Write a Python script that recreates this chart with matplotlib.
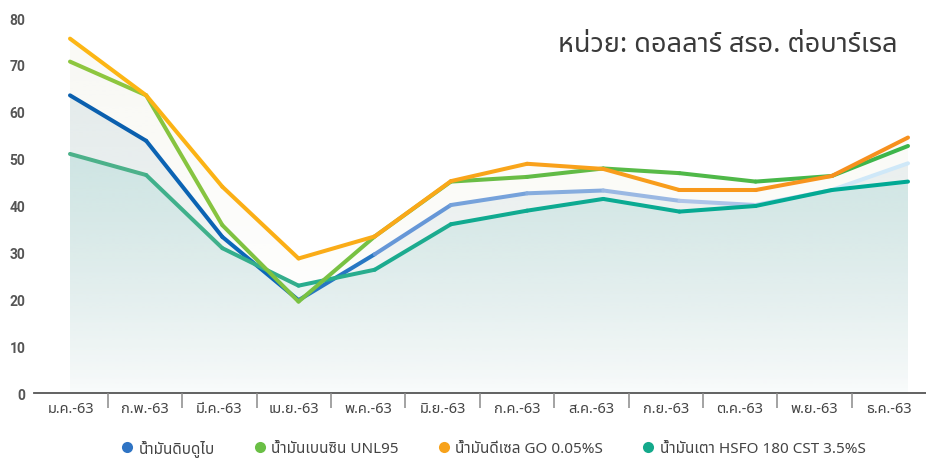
import numpy as np
import matplotlib
matplotlib.use('Agg')
import matplotlib.pyplot as plt
from matplotlib import font_manager
from matplotlib.collections import LineCollection
from matplotlib.colors import LinearSegmentedColormap, to_rgb
from matplotlib.lines import Line2D

# ---------------- data ----------------
months = ['ม.ค.-63', 'ก.พ.-63', 'มี.ค.-63', 'เม.ย.-63', 'พ.ค.-63', 'มิ.ย.-63',
          'ก.ค.-63', 'ส.ค.-63', 'ก.ย.-63', 'ต.ค.-63', 'พ.ย.-63', 'ธ.ค.-63']
dubai = [63.5, 53.8, 33.3, 19.8, 29.6, 40.1, 42.6, 43.2, 41.0, 40.1, 43.3, 49.0]
gasoline = [70.7, 63.5, 35.8, 19.5, 33.4, 45.1, 46.1, 47.9, 46.9, 45.1, 46.3, 52.7]
diesel = [75.6, 63.5, 44.0, 28.7, 33.4, 45.2, 48.9, 47.8, 43.3, 43.3, 46.3, 54.5]
fueloil = [51.0, 46.5, 30.9, 22.9, 26.3, 36.0, 38.9, 41.4, 38.7, 39.9, 43.3, 45.1]
names = ['น้ำมันดิบดูไบ', 'น้ำมันเบนซิน UNL95', 'น้ำมันดีเซล GO 0.05%S',
         'น้ำมันเตา HSFO 180 CST 3.5%S']
yticks = [0, 10, 20, 30, 40, 50, 60, 70, 80]
title = 'หน่วย: ดอลลาร์ สรอ. ต่อบาร์เรล'

# ---------------- font with Thai glyphs ----------------
def thai_fonts():
    found = []
    try:
        from fontTools.ttLib import TTFont
    except Exception:
        return found
    seen = set()
    for f in font_manager.fontManager.ttflist:
        if f.name in seen:
            continue
        try:
            kw = {'fontNumber': 0} if f.fname.lower().endswith(('.ttc', '.otc')) else {}
            tt = TTFont(f.fname, lazy=True, **kw)
            cmap = tt.getBestCmap()
            if cmap and 0x0E19 in cmap and 0x0E49 in cmap:
                found.append(f.name)
                seen.add(f.name)
        except Exception:
            pass
    pref = ['Noto Sans Thai', 'Noto Sans Thai UI', 'Sarabun', 'Prompt', 'Kanit',
            'Loma', 'Garuda', 'Tlwg Typo', 'Waree', 'Norasi']
    found.sort(key=lambda n: pref.index(n) if n in pref else len(pref))
    return found

tf = thai_fonts()
fam = (tf[:1] if tf else []) + ['DejaVu Sans']
plt.rcParams['font.family'] = fam

# ---------------- figure ----------------
W, H = 926, 460
fig = plt.figure(figsize=(W / 100, H / 100), dpi=100)
left_px, right_px, bot_px, top_px = 33.6, 926, 394, 19
ax = fig.add_axes([left_px / W, 1 - bot_px / H, (right_px - left_px) / W, (bot_px - top_px) / H])

# point 0 at x=70px, point 11 at x=908px
step = (908 - 70) / 11.0
ax.set_xlim(-(70 - left_px) / step, 11 + (right_px - 908) / step)
ax.set_ylim(0, 80)
x = np.arange(len(months))

def grad_fill(xs, ys, color, a_top, a_bot, z):
    ys = np.asarray(ys, float)
    top = ys.max()
    n = 256
    rgb = np.array(to_rgb(color))
    img = np.zeros((n, 1, 4))
    img[:, 0, :3] = rgb
    img[:, 0, 3] = np.linspace(a_top, a_bot, n)
    poly = ax.fill_between(xs, 0, ys, facecolor='none', edgecolor='none')
    im = ax.imshow(img, aspect='auto', extent=[xs[0], xs[-1], 0, top],
                   origin='upper', zorder=z, interpolation='bilinear')
    path = poly.get_paths()[0]
    im.set_clip_path(path, transform=ax.transData)

grad_fill(x, diesel, '#efefe2', 0.3, 0.0, 1)
grad_fill(x, gasoline, '#efefe2', 0.1, 0.0, 1.1)
grad_fill(x, dubai, '#d3e0e4', 0.55, 0.05, 1.2)
grad_fill(x, fueloil, '#c0e0de', 0.65, 0.05, 1.3)

def grad_line(xs, ys, stops, z, lw=2.9):
    pts = np.column_stack([xs, ys])
    segs = np.stack([pts[:-1], pts[1:]], axis=1)
    cmap = LinearSegmentedColormap.from_list('c', stops)
    cols = cmap(np.linspace(0, 1, len(segs)))
    lc = LineCollection(segs, colors=cols, linewidths=lw, capstyle='round',
                        joinstyle='round', zorder=z)
    ax.add_collection(lc)

grad_line(x, dubai, [(0, '#0a5fae'), (0.27, '#0d6abb'), (0.36, '#5f93d5'),
                     (0.64, '#8db0e0'), (0.82, '#b3c6ea'), (1.0, '#cfe8f8')], 3)
grad_line(x, fueloil, [(0, '#4cb18a'), (0.5, '#10aa90'), (1, '#00a994')], 4)
grad_line(x, gasoline, [(0, '#8dc63f'), (0.5, '#6abd45'), (1, '#3db54a')], 5)
grad_line(x, diesel, [(0, '#fcb614'), (0.5, '#f9a51a'), (1, '#f7901e')], 6)

# y axis
ax.set_yticks(yticks)
ax.set_yticklabels([str(v) for v in yticks], fontsize=10, fontweight='bold',
                   color='#555555', family=['Roboto', 'DejaVu Sans'])
ax.tick_params(axis='y', length=0, pad=6)
ax.set_xticks([])
for s in ['top', 'right', 'left']:
    ax.spines[s].set_visible(False)
ax.spines['bottom'].set_color('#555555')
ax.spines['bottom'].set_linewidth(1.3)
ax.spines['bottom'].set_zorder(10)

# category axis
ax2 = ax.twiny()
ax2.set_xlim(-0.5, 11.5)
ax2.xaxis.set_ticks_position('bottom')
ax2.xaxis.set_label_position('bottom')
ax2.set_xticks(np.arange(12))
ax2.set_xticklabels(months, fontsize=10.5, color='#444444')
ax2.set_xticks(np.arange(0.5, 11, 1), minor=True)
ax2.tick_params(axis='x', which='major', length=0, pad=6)
ax2.tick_params(axis='x', which='minor', length=11, width=1.1, color='#8a8a8a')
for s in ax2.spines.values():
    s.set_visible(False)
ax2.set_zorder(0)
ax2.patch.set_visible(False)

# title
fig.text(898 / W, 1 - 45 / H, title, ha='right', va='center', fontsize=19.5,
         color='#3a3a3a')

# legend
lcolors = ['#2f74c4', '#6abf45', '#f7a21b', '#14a98b']
handles = [Line2D([], [], linestyle='none', marker='o', markersize=8,
                  markerfacecolor=c, markeredgecolor='none') for c in lcolors]
fig.legend(handles, names, loc='center', bbox_to_anchor=(0.532, 1 - 449 / H),
           ncol=4, frameon=False, fontsize=11, handlelength=1.0,
           handletextpad=0.25, columnspacing=2.45, labelcolor='#444444')

fig.savefig('out.png', dpi=100)
